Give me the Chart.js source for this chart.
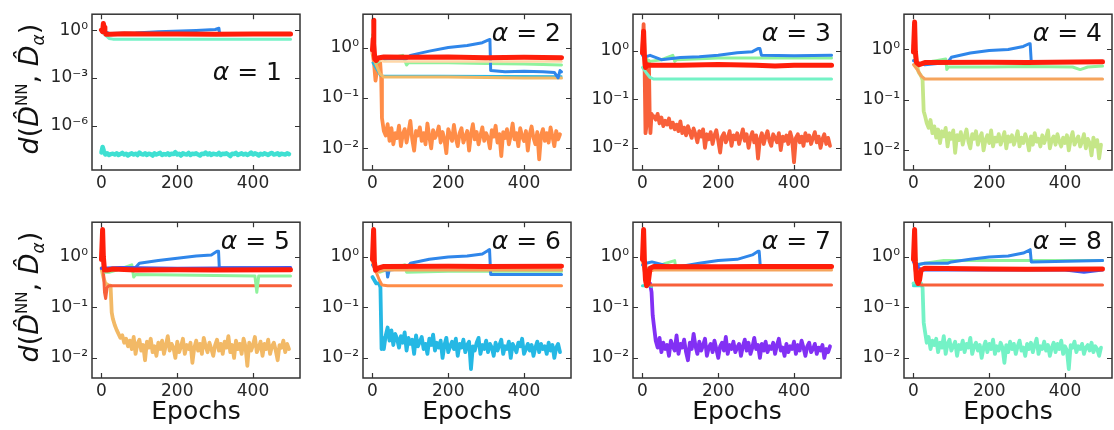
<!DOCTYPE html>
<html>
<head>
<meta charset="utf-8">
<script src="https://cdn.jsdelivr.net/npm/chart.js@4.4.1/dist/chart.umd.min.js"></script>
<style>
  html, body { margin: 0; padding: 0; background: #fff; width: 1114px; height: 430px; overflow: hidden; }
  .panel { position: absolute; }
</style>
</head>
<body>
<div id="fig"></div>
<script>
// ---- axes ----
const epochTicks = [0, 200, 400];
const logTicksWide = [1e-6, 1e-3, 1];
const logTicks = [1e-2, 1e-1, 1];

// epochs of the noisy low curves after their drop (every 5th epoch)
const noiseEpochs = [];
for (let e = 30; e <= 495; e += 5) noiseEpochs.push(e);

// ---- alpha = 1 ----
const p1Red  = [[0,1.0],[3,0.8],[5,2.6],[7,1.5],[9,0.7],[12,0.55],[25,0.55],[60,0.58],[120,0.56],[200,0.57],[300,0.55],[400,0.56],[499,0.56]];
const p1Blue = [[0,1.1],[5,0.9],[20,0.62],[90,0.65],[150,0.8],[250,0.95],[300,1.1],[310,1.3],[312,0.56],[499,0.56]];
const p1Aqua = [[0,0.8],[10,0.5],[20,0.3],[30,0.27],[200,0.27],[499,0.27]];
const p1LowHead = [[0,2.0e-8],[3,4.5e-8],[6,2.6e-8],[10,1.5e-8],[15,1.8e-8],[20,1.4e-8],[25,1.6e-8]];
const p1Low = [1.7e-8,1.5e-8,1.8e-8,1.4e-8,1.6e-8,1.9e-8,1.5e-8,1.7e-8,1.3e-8,1.6e-8,
  1.8e-8,1.5e-8,1.7e-8,1.4e-8,2.0e-8,1.6e-8,1.5e-8,1.8e-8,1.4e-8,1.7e-8,
  1.6e-8,1.3e-8,1.8e-8,1.5e-8,1.7e-8,1.9e-8,1.4e-8,1.6e-8,1.5e-8,1.8e-8,
  1.4e-8,1.7e-8,1.6e-8,2.1e-8,1.5e-8,1.7e-8,1.3e-8,1.8e-8,1.6e-8,1.5e-8,
  1.9e-8,1.4e-8,1.7e-8,1.6e-8,1.8e-8,1.5e-8,1.3e-8,1.7e-8,1.6e-8,2.0e-8,
  1.5e-8,1.8e-8,1.4e-8,1.7e-8,1.6e-8,1.5e-8,1.9e-8,1.4e-8,1.7e-8,1.6e-8,
  1.8e-8,1.5e-8,1.2e-8,1.7e-8,1.6e-8,1.9e-8,1.4e-8,1.6e-8,1.8e-8,1.5e-8,
  1.7e-8,1.4e-8,1.6e-8,2.0e-8,1.5e-8,1.8e-8,1.6e-8,1.3e-8,1.7e-8,1.5e-8,
  1.8e-8,1.6e-8,1.4e-8,1.7e-8,1.9e-8,1.5e-8,1.6e-8,1.8e-8,1.4e-8,1.7e-8,
  1.6e-8,1.5e-8,1.8e-8,1.6e-8];

// ---- alpha = 2 ----
const p2Red   = [[0,0.9],[2,1.5],[3,3.5],[4,1.2],[6,0.6],[10,0.55],[15,0.62],[30,0.65],[100,0.64],[200,0.65],[300,0.63],[400,0.64],[499,0.63]];
const p2Green = [[0,1.8],[4,0.8],[10,0.5],[20,0.55],[40,0.6],[80,0.7],[90,0.45],[95,0.5],[200,0.5],[300,0.48],[400,0.47],[499,0.45]];
const p2Blue  = [[0,0.9],[10,0.6],[30,0.6],[90,0.6],[100,0.7],[150,0.85],[200,1.0],[250,1.1],[290,1.25],[305,1.4],[310,1.45],[312,0.35],[350,0.33],[400,0.34],[450,0.33],[480,0.32],[490,0.25],[495,0.35],[499,0.33]];
const p2Peach = [[0,0.8],[10,0.6],[30,0.53],[499,0.53]];
const p2Tan   = [[0,0.9],[10,0.45],[20,0.3],[30,0.26],[200,0.26],[400,0.25],[499,0.25]];
const p2Cyan  = [[0,0.5],[20,0.28],[499,0.27]];
const p2LowHead = [[0,0.8],[4,0.5],[8,0.22],[12,0.35],[16,0.6],[20,0.55],[23,0.25],[25,0.04]];
const p2Low = [.022,.018,.030,.014,.025,.012,.020,.016,.028,.011,
  .019,.024,.013,.021,.035,.015,.009,.022,.018,.026,
  .014,.020,.012,.031,.017,.010,.023,.016,.019,.027,
  .013,.021,.015,.008,.024,.018,.014,.029,.016,.011,
  .020,.025,.013,.017,.022,.009,.019,.030,.015,.021,
  .012,.018,.026,.014,.020,.016,.010,.023,.017,.028,
  .013,.019,.007,.021,.016,.024,.012,.018,.031,.015,
  .020,.011,.025,.017,.014,.022,.009,.019,.027,.016,
  .012,.021,.006,.018,.024,.014,.020,.013,.026,.017,
  .011,.022,.015,.019];

// ---- alpha = 3 ----
const p3Red   = [[0,0.9],[3,2.5],[5,0.8],[8,0.45],[12,0.5],[30,0.5],[100,0.5],[200,0.52],[300,0.5],[350,0.48],[400,0.5],[499,0.5]];
const p3Blue  = [[0,0.8],[5,0.8],[10,0.75],[20,0.8],[50,0.65],[100,0.72],[150,0.75],[200,0.8],[250,0.9],[290,0.95],[305,1.1],[310,1.1],[314,0.8],[400,0.78],[499,0.8]];
const p3Green = [[0,1.5],[5,0.7],[20,0.6],[50,0.65],[80,0.8],[85,0.6],[90,0.65],[200,0.7],[300,0.7],[499,0.7]];
const p3Aqua  = [[0,0.45],[10,0.35],[20,0.28],[30,0.26],[499,0.26]];
const p3LowHead = [[0,1.0],[3,3.5],[5,1.0],[8,0.02],[11,0.03],[14,0.5],[17,0.6],[19,0.05],[21,0.02],[24,0.05],[27,0.045]];
const p3Low = [.045,.038,.050,.032,.042,.028,.036,.030,.040,.026,
  .033,.024,.030,.022,.035,.020,.026,.018,.028,.021,
  .016,.025,.019,.013,.022,.017,.024,.010,.019,.015,
  .021,.012,.018,.023,.014,.008,.017,.020,.013,.016,
  .022,.011,.018,.015,.020,.012,.017,.024,.014,.019,
  .010,.016,.021,.013,.018,.006,.015,.020,.012,.017,
  .022,.014,.011,.019,.016,.013,.020,.009,.017,.014,
  .018,.012,.021,.015,.005,.016,.019,.013,.017,.011,
  .020,.014,.018,.012,.016,.021,.013,.017,.010,.015,
  .019,.012,.016,.011];

// ---- alpha = 4 ----
const p4Red   = [[0,0.9],[3,3.5],[5,0.9],[8,0.55],[15,0.5],[30,0.55],[200,0.56],[300,0.55],[499,0.57]];
const p4Blue  = [[0,0.6],[10,0.55],[30,0.5],[90,0.55],[100,0.7],[150,0.85],[200,0.95],[250,1.0],[290,1.15],[305,1.3],[308,1.3],[311,0.55],[400,0.55],[499,0.55]];
const p4Green = [[0,1.5],[5,0.6],[15,0.5],[30,0.55],[60,0.6],[85,0.65],[88,0.4],[92,0.45],[200,0.45],[300,0.46],[420,0.45],[440,0.4],[460,0.45],[499,0.47]];
const p4Tan   = [[0,0.5],[10,0.4],[20,0.3],[30,0.26],[499,0.26]];
const p4LowHead = [[0,1.2],[4,1.0],[8,0.5],[14,0.35],[20,0.3],[24,0.25],[27,0.06]];
const p4Low = [.050,.035,.028,.040,.022,.030,.018,.026,.014,.024,
  .019,.028,.012,.022,.017,.025,.009,.020,.016,.023,
  .013,.019,.026,.015,.011,.021,.017,.024,.013,.018,
  .022,.010,.016,.020,.014,.025,.012,.018,.015,.021,
  .013,.017,.023,.011,.019,.015,.020,.013,.017,.024,
  .012,.018,.014,.021,.016,.010,.019,.013,.022,.015,
  .017,.012,.020,.014,.018,.025,.011,.016,.019,.013,
  .021,.015,.012,.018,.014,.020,.010,.017,.023,.013,
  .016,.019,.012,.015,.021,.011,.017,.014,.008,.018,
  .012,.016,.007,.013];

// ---- alpha = 5 ----
const p5Red    = [[0,0.9],[3,3.5],[5,1.0],[8,0.55],[15,0.55],[30,0.58],[90,0.55],[200,0.56],[300,0.55],[499,0.56]];
const p5Orange = [[0,1.2],[4,0.8],[8,0.2],[11,0.15],[15,0.25],[20,0.27],[30,0.27],[499,0.27]];
const p5Navy   = [[0,0.6],[10,0.6],[50,0.62],[200,0.6],[499,0.62]];
const p5Blue   = [[0,0.6],[20,0.6],[90,0.62],[100,0.75],[150,0.85],[200,0.95],[250,1.05],[290,1.1],[305,1.3],[309,1.3],[311,0.62],[499,0.6]];
const p5Green  = [[0,1.2],[10,0.5],[20,0.5],[40,0.55],[80,0.7],[85,0.4],[90,0.45],[200,0.44],[300,0.43],[405,0.42],[410,0.2],[415,0.42],[499,0.42]];
const p5LowHead = [[0,0.6],[5,0.4],[10,0.3],[20,0.27],[24,0.27],[27,0.08]];
const p5Low = [.060,.045,.036,.030,.025,.028,.020,.024,.017,.022,
  .015,.026,.012,.019,.023,.014,.018,.009,.021,.016,
  .024,.013,.017,.011,.020,.015,.022,.012,.018,.027,
  .014,.019,.016,.010,.021,.013,.017,.024,.012,.018,
  .015,.020,.008,.016,.022,.014,.019,.012,.025,.017,
  .013,.020,.015,.011,.018,.023,.014,.019,.012,.021,
  .016,.027,.013,.018,.010,.022,.015,.019,.012,.024,
  .017,.007,.020,.014,.018,.026,.013,.016,.021,.011,
  .019,.015,.023,.012,.017,.020,.014,.009,.018,.016,
  .022,.013,.019,.015];

// ---- alpha = 6 ----
const p6Red    = [[0,0.9],[3,3.5],[5,0.8],[8,0.55],[15,0.6],[30,0.65],[200,0.66],[300,0.65],[499,0.66]];
const p6Orange = [[0,0.8],[10,0.5],[30,0.55],[499,0.55]];
const p6Coral  = [[0,0.9],[10,0.5],[18,0.35],[25,0.28],[40,0.27],[499,0.27]];
const p6Blue   = [[0,0.7],[10,0.55],[30,0.55],[38,0.55],[40,0.4],[44,0.55],[90,0.6],[100,0.75],[150,0.9],[200,1.0],[250,1.05],[290,1.15],[305,1.35],[309,1.4],[312,0.45],[400,0.45],[499,0.45]];
const p6Green  = [[0,1.8],[5,0.6],[20,0.5],[50,0.6],[85,0.7],[90,0.5],[200,0.52],[499,0.52]];
const p6LowHead = [[0,0.4],[10,0.3],[18,0.3],[21,0.25],[24,0.015],[27,0.025]];
const p6Low = [.015,.028,.040,.022,.035,.018,.030,.024,.016,.027,
  .020,.032,.014,.025,.019,.023,.012,.028,.017,.021,
  .026,.015,.019,.012,.024,.018,.029,.014,.020,.016,
  .022,.010,.018,.025,.013,.017,.021,.015,.024,.011,
  .019,.016,.023,.013,.018,.021,.006,.017,.014,.020,
  .025,.012,.018,.015,.022,.013,.019,.016,.011,.020,
  .014,.018,.023,.012,.017,.015,.021,.010,.019,.016,
  .013,.020,.017,.024,.012,.015,.019,.014,.018,.011,
  .016,.021,.013,.019,.015,.017,.012,.020,.014,.018,
  .010,.016,.019,.013];

// ---- alpha = 7 ----
const p7Red    = [[0,0.9],[3,3.5],[5,0.9],[8,0.35],[11,0.27],[15,0.3],[20,0.6],[30,0.65],[200,0.64],[300,0.65],[499,0.65]];
const p7Orange = [[0,0.8],[10,0.5],[30,0.55],[499,0.55]];
const p7Coral  = [[0,0.9],[10,0.3],[20,0.28],[499,0.28]];
const p7Blue   = [[0,0.7],[10,0.75],[25,0.8],[90,0.6],[100,0.65],[150,0.75],[200,0.85],[250,0.9],[290,1.1],[305,1.3],[308,1.3],[311,0.65],[499,0.65]];
const p7Green  = [[0,1.5],[8,0.6],[30,0.6],[60,0.75],[85,0.85],[88,0.6],[200,0.62],[499,0.62]];
const p7Cyan   = [[0,0.27],[20,0.27],[24,0.26]];
const p7LowHead = [[0,1.0],[5,0.7],[10,0.4],[15,0.3],[20,0.3],[24,0.2],[27,0.07]];
const p7Low = [.045,.022,.016,.025,.013,.020,.015,.018,.011,.022,
  .017,.014,.028,.012,.019,.016,.023,.013,.009,.020,
  .015,.030,.017,.012,.021,.014,.018,.024,.011,.016,
  .019,.013,.022,.015,.010,.017,.020,.014,.026,.012,
  .018,.015,.021,.013,.016,.019,.011,.017,.023,.014,
  .020,.012,.016,.025,.015,.018,.010,.019,.014,.021,
  .013,.017,.015,.020,.012,.018,.024,.014,.016,.011,
  .019,.013,.017,.015,.021,.012,.018,.014,.022,.016,
  .011,.017,.020,.013,.015,.019,.012,.016,.014,.018,
  .010,.015,.013,.017];

// ---- alpha = 8 ----
const p8Red   = [[0,0.9],[3,3.5],[5,0.8],[8,0.35],[12,0.3],[16,0.35],[20,0.55],[30,0.6],[200,0.58],[300,0.57],[499,0.58]];
const p8Coral = [[0,0.9],[10,0.3],[20,0.28],[499,0.28]];
const p8Navy  = [[0,0.8],[20,0.55],[200,0.55],[400,0.55],[450,0.5],[499,0.55]];
const p8Blue  = [[0,0.9],[10,0.7],[30,0.75],[90,0.75],[100,0.8],[150,0.9],[200,1.0],[250,1.05],[290,1.2],[305,1.35],[308,1.4],[311,0.8],[499,0.85]];
const p8Green = [[0,1.5],[10,0.7],[30,0.75],[80,0.85],[200,0.85],[499,0.85]];
const p8Cyan  = [[0,0.27],[22,0.27]];
const p8LowHead = [[0,0.3],[10,0.3],[20,0.3],[24,0.25],[27,0.05]];
const p8Low = [.035,.020,.026,.015,.022,.018,.024,.013,.020,.016,
  .027,.012,.019,.023,.014,.017,.021,.011,.018,.015,
  .022,.013,.019,.016,.025,.012,.017,.020,.014,.018,
  .010,.016,.021,.013,.019,.015,.023,.012,.017,.014,
  .020,.016,.008,.018,.013,.021,.015,.019,.012,.017,
  .022,.014,.016,.011,.019,.015,.020,.013,.018,.024,
  .012,.017,.015,.021,.014,.018,.011,.016,.020,.013,
  .019,.015,.022,.012,.017,.014,.006,.018,.016,.021,
  .013,.017,.015,.019,.012,.016,.018,.014,.020,.013,
  .017,.015,.011,.016];

// ---- colours (rainbow map) ----
const C = {
  red: '#ff1e0a', coral: '#f8603a', orange: '#ff8d48', tanOrange: '#f5a45c', tan: '#f2b966',
  peach: '#ffd7a8', yellowGreen: '#c5e688', green: '#8ff29c', aqua: '#74f2c6',
  turquoise: '#3fe0d2', cyan: '#25b8e4', blue: '#2f86ea', navy: '#4258f0', purple: '#8230f4'
};

function pts(list) { return list.map(([x, y]) => ({ x, y })); }
function lowCurve(head, vals) {
  return pts(head).concat(vals.map((y, i) => ({ x: noiseEpochs[i], y })));
}

const RW = 5;   // width of the red curve
const LW = 3;   // width of the other smooth curves
const NW = 3.8; // width of the noisy low curves

const panels = [
  { n: 1, col: 0, row: 0, yMin: 1.6e-9, yMax: 10, yTicks: logTicksWide, lx: 18, ly: 59,
    lines: [[pts(p1Red), C.red, RW], [pts(p1Blue), C.blue, LW], [pts(p1Aqua), C.aqua, LW],
            [lowCurve(p1LowHead, p1Low), C.turquoise, 4.5]] },
  { n: 2, col: 1, row: 0, yMin: 0.0037, yMax: 4.6, yTicks: logTicks, lx: 10, ly: 20,
    lines: [[pts(p2Red), C.red, RW], [pts(p2Peach), C.peach, 2.5], [pts(p2Blue), C.blue, LW],
            [pts(p2Green), C.green, LW], [pts(p2Tan), C.tan, LW], [pts(p2Cyan), C.cyan, 2],
            [lowCurve(p2LowHead, p2Low), C.orange, NW]] },
  { n: 3, col: 2, row: 0, yMin: 0.0035, yMax: 5.6, yTicks: logTicks, lx: 10, ly: 20,
    lines: [[pts(p3Red), C.red, RW], [pts(p3Blue), C.blue, LW], [pts(p3Green), C.green, LW],
            [pts(p3Aqua), C.aqua, LW], [lowCurve(p3LowHead, p3Low), C.coral, NW]] },
  { n: 4, col: 3, row: 0, yMin: 0.0041, yMax: 5.0, yTicks: logTicks, lx: 10, ly: 20,
    lines: [[pts(p4Red), C.red, RW], [pts(p4Blue), C.blue, LW], [pts(p4Green), C.green, LW],
            [pts(p4Tan), C.tanOrange, LW], [lowCurve(p4LowHead, p4Low), C.yellowGreen, NW]] },
  { n: 5, col: 0, row: 1, yMin: 0.004, yMax: 4.9, yTicks: logTicks, lx: 10, ly: 20,
    lines: [[pts(p5Red), C.red, RW], [pts(p5Navy), C.navy, LW], [pts(p5Blue), C.blue, LW],
            [pts(p5Green), C.green, LW], [pts(p5Orange), C.coral, LW],
            [lowCurve(p5LowHead, p5Low), C.tan, NW]] },
  { n: 6, col: 1, row: 1, yMin: 0.004, yMax: 4.9, yTicks: logTicks, lx: 10, ly: 20,
    lines: [[pts(p6Red), C.red, RW], [pts(p6Orange), C.tanOrange, LW], [pts(p6Blue), C.blue, LW],
            [pts(p6Green), C.green, LW], [pts(p6Coral), C.orange, LW],
            [lowCurve(p6LowHead, p6Low), C.cyan, NW]] },
  { n: 7, col: 2, row: 1, yMin: 0.004, yMax: 4.9, yTicks: logTicks, lx: 10, ly: 20,
    lines: [[pts(p7Red), C.red, RW], [pts(p7Orange), C.tanOrange, LW], [pts(p7Blue), C.blue, LW],
            [pts(p7Green), C.green, LW], [pts(p7Coral), C.coral, LW], [pts(p7Cyan), C.turquoise, LW],
            [lowCurve(p7LowHead, p7Low), C.purple, NW]] },
  { n: 8, col: 3, row: 1, yMin: 0.004, yMax: 4.9, yTicks: logTicks, lx: 10, ly: 20,
    lines: [[pts(p8Red), C.red, RW], [pts(p8Navy), C.navy, LW], [pts(p8Blue), C.blue, LW],
            [pts(p8Green), C.green, LW], [pts(p8Coral), C.coral, LW], [pts(p8Cyan), C.turquoise, LW],
            [lowCurve(p8LowHead, p8Low), C.aqua, NW]] }
];

// ---- layout ----
const plotLefts = [92, 363, 633, 904];
const plotTops = [4, 212];
const plotW = 208, plotH = 166;
const padTop = 4, padRight = 3;

const FONT = "'DejaVu Sans', sans-serif";
const INK = '#262626';
Chart.defaults.font.family = FONT;
Chart.defaults.color = INK;

const SUP = { '0': '⁰', '1': '¹', '2': '²', '3': '³', '4': '⁴', '5': '⁵', '6': '⁶', '7': '⁷', '8': '⁸', '9': '⁹', '-': '⁻' };
function powLabel(v) {
  const e = String(Math.round(Math.log10(v)));
  return '10' + e.split('').map(c => SUP[c]).join('');
}

// frame with inward ticks on all four sides
const framePlugin = {
  id: 'frame',
  afterDatasetsDraw(chart) {
    const { ctx, chartArea: a, scales: { x, y } } = chart;
    ctx.save();
    ctx.strokeStyle = '#333';
    ctx.lineWidth = 1.5;
    ctx.strokeRect(a.left, a.top, a.right - a.left, a.bottom - a.top);
    ctx.lineWidth = 1.2;
    ctx.beginPath();
    for (const t of x.ticks) {
      const px = Math.round(x.getPixelForValue(t.value)) + 0.5;
      ctx.moveTo(px, a.bottom); ctx.lineTo(px, a.bottom - 5);
      ctx.moveTo(px, a.top); ctx.lineTo(px, a.top + 5);
    }
    for (const t of y.ticks) {
      const py = Math.round(y.getPixelForValue(t.value)) + 0.5;
      ctx.moveTo(a.left, py); ctx.lineTo(a.left + 5, py);
      ctx.moveTo(a.right, py); ctx.lineTo(a.right - 5, py);
    }
    ctx.stroke();
    ctx.restore();
  }
};

// "α = n" tag in the panel corner
const alphaPlugin = {
  id: 'alphaTag',
  afterDraw(chart, args, opts) {
    const { ctx, chartArea: a } = chart;
    ctx.save();
    ctx.fillStyle = '#111';
    ctx.textBaseline = 'middle';
    const fA = `italic 25px ${FONT}`, fN = `25px ${FONT}`;
    const rest = ' = ' + opts.n;
    ctx.font = fN; const wR = ctx.measureText(rest).width;
    ctx.font = fA; const wA = ctx.measureText('α').width;
    const xr = a.right - opts.dx, yc = a.top + opts.dy;
    ctx.font = fA; ctx.fillText('α', xr - wR - wA, yc);
    ctx.font = fN; ctx.fillText(rest, xr - wR, yc);
    ctx.restore();
  }
};

// rotated y title  d(D̂^NN, D̂_α)
const yTitlePlugin = {
  id: 'yTitle',
  afterDraw(chart, args, opts) {
    if (!opts.show) return;
    const { ctx, chartArea: a } = chart;
    const big = 27, small = 15;
    const parts = [
      { t: 'd', f: `italic ${big}px ${FONT}`, dy: 0 },
      { t: '(', f: `${big}px ${FONT}`, dy: 0 },
      { t: 'D\u0302', f: `italic ${big}px ${FONT}`, dy: 0 },
      { t: 'NN', f: `${small}px ${FONT}`, dy: -11 },
      { t: ', ', f: `${big}px ${FONT}`, dy: 0 },
      { t: 'D\u0302', f: `italic ${big}px ${FONT}`, dy: 0 },
      { t: 'α', f: `italic ${small + 2}px ${FONT}`, dy: 6 },
      { t: ')', f: `${big}px ${FONT}`, dy: 0 }
    ];
    ctx.save();
    let total = 0;
    for (const p of parts) { ctx.font = p.f; p.w = ctx.measureText(p.t).width; total += p.w; }
    ctx.translate(38, (a.top + a.bottom) / 2 - 3);
    ctx.rotate(-Math.PI / 2);
    ctx.fillStyle = '#111';
    ctx.textBaseline = 'alphabetic';
    let x = -total / 2;
    for (const p of parts) { ctx.font = p.f; ctx.fillText(p.t, x, p.dy); x += p.w; }
    ctx.restore();
  }
};

const fig = document.getElementById('fig');
for (const p of panels) {
  const leftMargin = p.col === 0 ? 92 : 60;
  const xAxisH = p.row === 0 ? 30 : 52;
  const W = leftMargin + plotW + padRight;
  const H = padTop + plotH + xAxisH;
  const div = document.createElement('div');
  div.className = 'panel';
  div.style.left = (plotLefts[p.col] - leftMargin) + 'px';
  div.style.top = (plotTops[p.row] - padTop) + 'px';
  const cv = document.createElement('canvas');
  cv.width = W; cv.height = H;
  cv.style.width = W + 'px'; cv.style.height = H + 'px';
  div.appendChild(cv);
  fig.appendChild(div);

  const datasets = p.lines.map(([data, color, w]) => ({
    data, borderColor: color, borderWidth: w, pointRadius: 0, tension: 0,
    borderJoinStyle: 'round', borderCapStyle: 'round', fill: false
  }));

  new Chart(cv, {
    type: 'line',
    data: { datasets },
    plugins: [framePlugin, alphaPlugin, yTitlePlugin],
    options: {
      responsive: false,
      animation: false,
      devicePixelRatio: 1,
      layout: { padding: { top: padTop, right: padRight, left: 0, bottom: 0 } },
      parsing: false,
      plugins: {
        legend: { display: false },
        tooltip: { enabled: false },
        alphaTag: { n: p.n, dx: p.lx, dy: p.ly },
        yTitle: { show: p.col === 0 }
      },
      scales: {
        x: {
          type: 'linear', min: -25, max: 524,
          grid: { display: false, drawTicks: false, tickLength: 0 },
          border: { display: false },
          ticks: { font: { size: 17 }, color: INK, padding: 3, autoSkip: false, maxRotation: 0,
                   callback: v => String(v) },
          afterBuildTicks: s => { s.ticks = epochTicks.map(v => ({ value: v })); },
          afterFit: s => { s.height = xAxisH; },
          title: { display: p.row === 1, text: 'Epochs', font: { size: 25 }, color: '#111',
                   padding: { top: 0, bottom: 3 } }
        },
        y: {
          type: 'logarithmic', min: p.yMin, max: p.yMax,
          grid: { display: false, drawTicks: false, tickLength: 0 },
          border: { display: false },
          ticks: { font: { size: 17 }, color: INK, padding: 4, autoSkip: false,
                   callback: v => powLabel(v) },
          afterBuildTicks: s => { s.ticks = p.yTicks.map(v => ({ value: v })); },
          afterFit: s => { s.width = leftMargin; }
        }
      }
    }
  });
}
</script>
</body>
</html>
